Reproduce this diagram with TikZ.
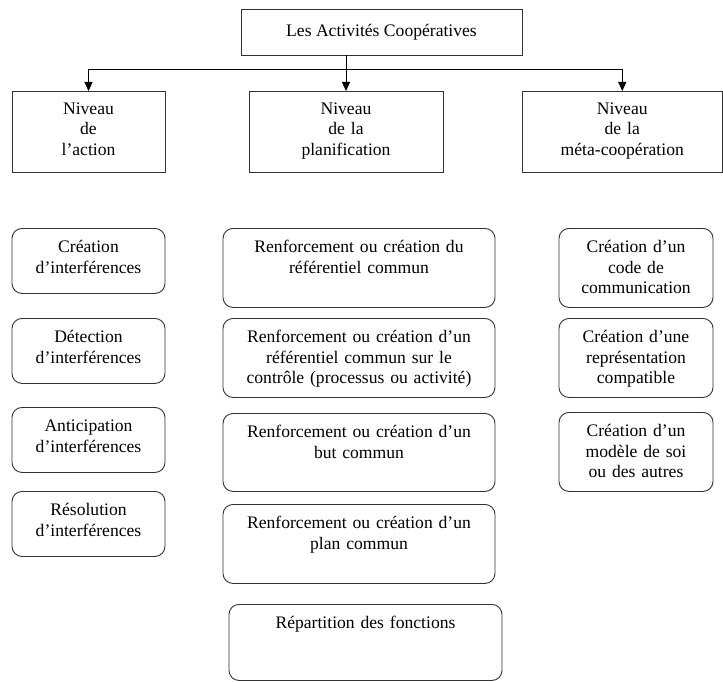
\documentclass[tikz,border=0pt]{standalone}
\usepackage{fontspec}
\setmainfont{Liberation Serif}
\usetikzlibrary{arrows.meta}

\begin{document}
\begin{tikzpicture}[x=1pt,y=-1pt,
    every node/.style={font=\fontsize{17.6pt}{20.5pt}\selectfont, align=center},
    titre/.style={draw=black!80, line width=0.9pt, minimum width=281pt, minimum height=46pt},
    niveau/.style={draw=black!80, line width=0.9pt, anchor=north, inner xsep=4pt, inner ysep=0pt, text height=23pt, text depth=58pt},
    activite/.style={draw=black!80, line width=0.9pt, rounded corners=10pt, anchor=north, inner xsep=4pt, inner ysep=0pt, text height=24.5pt},
    fleche/.style={-{Triangle[length=9pt,width=8pt]}, line width=0.9pt}]
        \useasboundingbox (0,0) rectangle (723,682);

        % Title and levels
        \node[titre] (activites) at (381.5,32) {Les Activités Coopératives};
        \node[niveau, text width=145pt] (action) at (88.5,91) {Niveau\\de\\l’action};
        \node[niveau, text width=186pt] (planif) at (346,91) {Niveau\\de la\\planification};
        \node[niveau, text width=192.5pt] (meta) at (622.25,91) {Niveau\\de la\\méta-coopération};

        % Arrows
        \coordinate (bus) at (0,69);
        \draw[fleche] (activites.south -| planif.north) -- (planif.north);
        \draw[line width=0.9pt] (bus -| action.north) -- (bus -| meta.north);
        \draw[fleche] (bus -| action.north) -- (action.north);
        \draw[fleche] (bus -| meta.north) -- (meta.north);

        % Action
        \node[activite, text width=145pt, text depth=40.5pt] (creation) at (88.5,228) {Création\\d’interférences};
        \node[activite, text width=145pt, text depth=40.5pt] (detection) at (88.5,318) {Détection\\d’interférences};
        \node[activite, text width=145pt, text depth=40.5pt] (anticipation) at (88.5,407) {Anticipation\\d’interférences};
        \node[activite, text width=145pt, text depth=40.5pt] (resolution) at (88.5,491) {Résolution\\d’interférences};

        % Planification
        \node[activite, text width=264pt, text depth=54.5pt] (referentiel) at (359,228) {Renforcement ou création du\\référentiel commun};
        \node[activite, text width=264pt, text depth=54.5pt] (controle) at (359,318) {Renforcement ou création d’un\\référentiel commun sur le\\contrôle (processus ou activité)};
        \node[activite, text width=264pt, text depth=53.5pt] (but) at (359,413) {Renforcement ou création d’un\\but commun};
        \node[activite, text width=264pt, text depth=54.5pt] (plan) at (359,504) {Renforcement ou création d’un\\plan commun};
        \node[activite, text width=265pt, text depth=51.5pt] (fonctions) at (365.5,604) {Répartition des fonctions};

        % Meta-cooperation
        \node[activite, text width=146pt, text depth=54.5pt] (code) at (636,228) {Création d’un\\code de\\communication};
        \node[activite, text width=146pt, text depth=54.5pt] (representation) at (636,318) {Création d’une\\représentation\\compatible};
        \node[activite, text width=146pt, text depth=54.5pt] (modele) at (636,412) {Création d’un\\modèle de soi\\ou des autres};
      \end{tikzpicture}
\end{document}
